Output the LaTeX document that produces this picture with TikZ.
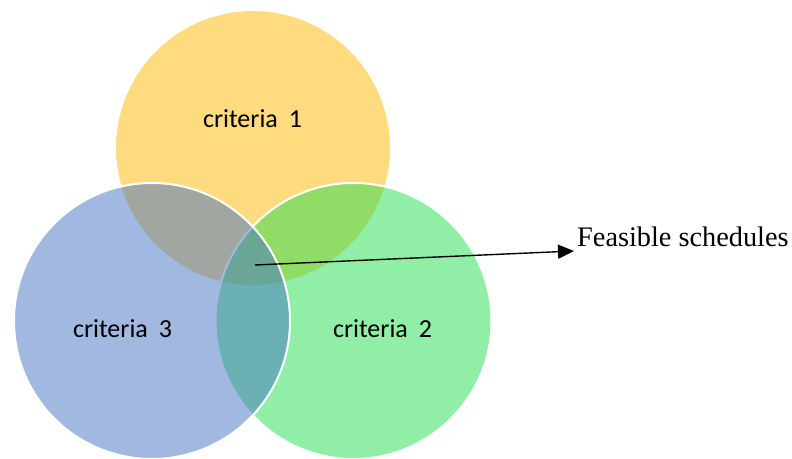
\documentclass[tikz,border=0pt]{standalone}
\usepackage{fontspec}
\setmainfont{Carlito}
\newfontfamily\feasfont{Liberation Serif}
\usetikzlibrary{arrows.meta}
\definecolor{cyel}{RGB}{255,184,0}
\definecolor{cgrn}{RGB}{36,222,78}
\definecolor{cblu}{RGB}{68,114,196}
\tikzset{
  venn/.style={circle, minimum size=276bp, inner sep=0pt, fill opacity=0.5, draw=white, draw opacity=1, line width=2bp},
  crit/.style={anchor=base, inner sep=0pt, font=\fontsize{26bp}{31bp}\selectfont},
  feas/.style={anchor=base west, inner sep=0pt, font=\feasfont\fontsize{28.3bp}{34bp}\selectfont},
  pointer/.style={-{Triangle[length=16bp,width=14bp]}, line width=1.4bp, black}
}
\begin{document}
\begin{tikzpicture}[x=1bp,y=-1bp]
\useasboundingbox (0,0) rectangle (792,459);
\node[venn, fill=cyel] (c1) at (253,148) {};
\node[venn, fill=cgrn] (c2) at (353.5,321) {};
\node[venn, fill=cblu] (c3) at (152,321) {};
\node[crit] (l1) at (252.5,127.3) {criteria\hspace{0.42em}1};
\node[crit] (l3) at (122.5,337.3) {criteria\hspace{0.42em}3};
\node[crit] (l2) at (382.5,337.3) {criteria\hspace{0.42em}2};
\node[feas] (fs) at (577,246.7) {Feasible schedules};
\coordinate (s) at (255,265);
\coordinate (t) at (574,251);
\draw[pointer] (s) -- (t);
\end{tikzpicture}
\end{document}
